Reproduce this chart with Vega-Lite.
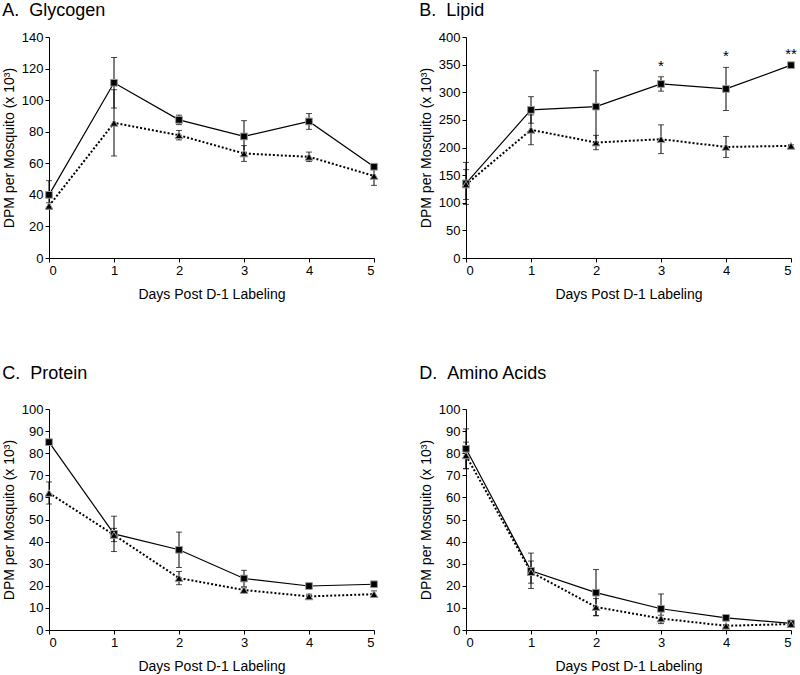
{
  "$schema": "https://vega.github.io/schema/vega-lite/v6.json",
  "padding": {"left": 2, "top": 2, "right": 0, "bottom": 2},
  "datasets": {
    "glycogen": [
      {"day": 0, "series": "square", "value": 40, "lo": 31, "hi": 49},
      {"day": 1, "series": "square", "value": 111, "lo": 95, "hi": 127},
      {"day": 2, "series": "square", "value": 87.5, "lo": 84.5, "hi": 90.5},
      {"day": 3, "series": "square", "value": 77, "lo": 67, "hi": 87},
      {"day": 4, "series": "square", "value": 86.5, "lo": 81.5, "hi": 91.5},
      {"day": 5, "series": "square", "value": 57.8, "lo": 56.8, "hi": 58.8},
      {"day": 0, "series": "triangle", "value": 33, "lo": 31, "hi": 35},
      {"day": 1, "series": "triangle", "value": 85.6, "lo": 64.6, "hi": 106.6},
      {"day": 2, "series": "triangle", "value": 77.8, "lo": 74.8, "hi": 80.8},
      {"day": 3, "series": "triangle", "value": 66.2, "lo": 61.2, "hi": 71.2},
      {"day": 4, "series": "triangle", "value": 64.1, "lo": 61.1, "hi": 67.1},
      {"day": 5, "series": "triangle", "value": 52, "lo": 46, "hi": 58}
    ],
    "lipid": [
      {"day": 0, "series": "square", "value": 135, "lo": 97, "hi": 173},
      {"day": 1, "series": "square", "value": 268, "lo": 244, "hi": 292},
      {"day": 2, "series": "square", "value": 274, "lo": 209, "hi": 339},
      {"day": 3, "series": "square", "value": 315, "lo": 302, "hi": 328},
      {"day": 4, "series": "square", "value": 306, "lo": 267, "hi": 345},
      {"day": 5, "series": "square", "value": 349, "lo": 347, "hi": 351},
      {"day": 0, "series": "triangle", "value": 133, "lo": 106, "hi": 160},
      {"day": 1, "series": "triangle", "value": 232, "lo": 205, "hi": 259},
      {"day": 2, "series": "triangle", "value": 209, "lo": 196, "hi": 222},
      {"day": 3, "series": "triangle", "value": 215, "lo": 189, "hi": 241},
      {"day": 4, "series": "triangle", "value": 201, "lo": 182, "hi": 220},
      {"day": 5, "series": "triangle", "value": 203, "lo": 201, "hi": 205}
    ],
    "lipidStars": [
      {"day": 3, "value": 348, "label": "*"},
      {"day": 4, "value": 366, "label": "*"},
      {"day": 5, "value": 370, "label": "**"}
    ],
    "protein": [
      {"day": 0, "series": "square", "value": 85, "lo": 84, "hi": 86},
      {"day": 1, "series": "square", "value": 43.5, "lo": 35.5, "hi": 51.5},
      {"day": 2, "series": "square", "value": 36.3, "lo": 28.3, "hi": 44.3},
      {"day": 3, "series": "square", "value": 23.3, "lo": 19.6, "hi": 27},
      {"day": 4, "series": "square", "value": 19.9, "lo": 19.4, "hi": 20.4},
      {"day": 5, "series": "square", "value": 20.7, "lo": 20.2, "hi": 21.2},
      {"day": 0, "series": "triangle", "value": 62, "lo": 57, "hi": 67},
      {"day": 1, "series": "triangle", "value": 43, "lo": 40, "hi": 46},
      {"day": 2, "series": "triangle", "value": 23.5, "lo": 20.5, "hi": 26.5},
      {"day": 3, "series": "triangle", "value": 18.1, "lo": 17.1, "hi": 19.1},
      {"day": 4, "series": "triangle", "value": 15.2, "lo": 14.2, "hi": 16.2},
      {"day": 5, "series": "triangle", "value": 16.2, "lo": 14.7, "hi": 17.7}
    ],
    "amino": [
      {"day": 0, "series": "square", "value": 82, "lo": 73, "hi": 91},
      {"day": 1, "series": "square", "value": 26.8, "lo": 18.8, "hi": 34.8},
      {"day": 2, "series": "square", "value": 16.9, "lo": 6.4, "hi": 27.4},
      {"day": 3, "series": "square", "value": 9.6, "lo": 2.9, "hi": 16.3},
      {"day": 4, "series": "square", "value": 5.5, "lo": 4.5, "hi": 6.5},
      {"day": 5, "series": "square", "value": 3, "lo": 2.5, "hi": 3.5},
      {"day": 0, "series": "triangle", "value": 79, "lo": 73, "hi": 85},
      {"day": 1, "series": "triangle", "value": 26.2, "lo": 21.2, "hi": 31.2},
      {"day": 2, "series": "triangle", "value": 10.4, "lo": 6.6, "hi": 14.2},
      {"day": 3, "series": "triangle", "value": 5.2, "lo": 3.7, "hi": 6.7},
      {"day": 4, "series": "triangle", "value": 1.9, "lo": 1.4, "hi": 2.4},
      {"day": 5, "series": "triangle", "value": 2.7, "lo": 2.2, "hi": 3.2}
    ]
  },
  "vconcat": [
    {
      "hconcat": [
        {
          "title": {"text": "A.\u00a0\u00a0Glycogen", "offset": 11},
          "width": 325, "height": 221,
          "data": {"name": "glycogen"},
          "encoding": {
            "x": {"field": "day", "type": "quantitative", "scale": {"domain": [0, 5], "nice": false}, "axis": {"values": [0, 1, 2, 3, 4, 5], "title": "Days Post D-1 Labeling", "labelOverlap": false}}
          },
          "layer": [
            {"mark": {"type": "rule", "color": "black", "strokeWidth": 1}, "encoding": {"y": {"field": "lo", "type": "quantitative", "scale": {"domain": [0, 140], "nice": false}, "axis": {"values": [0, 20, 40, 60, 80, 100, 120, 140], "labelOverlap": false}, "title": "DPM per Mosquito (x 10³)"}, "y2": {"field": "hi"}}},
            {"mark": {"type": "tick", "orient": "horizontal", "size": 6, "thickness": 1, "color": "black"}, "encoding": {"y": {"field": "lo", "type": "quantitative", "axis": {"values": [0, 20, 40, 60, 80, 100, 120, 140], "labelOverlap": false}, "title": "DPM per Mosquito (x 10³)"}}},
            {"mark": {"type": "tick", "orient": "horizontal", "size": 6, "thickness": 1, "color": "black"}, "encoding": {"y": {"field": "hi", "type": "quantitative", "axis": {"values": [0, 20, 40, 60, 80, 100, 120, 140], "labelOverlap": false}, "title": "DPM per Mosquito (x 10³)"}}},
            {"transform": [{"filter": "datum.series == 'square'"}], "mark": {"type": "line", "color": "black", "strokeWidth": 1.2}, "encoding": {"y": {"field": "value", "type": "quantitative", "axis": {"values": [0, 20, 40, 60, 80, 100, 120, 140], "labelOverlap": false}, "title": "DPM per Mosquito (x 10³)"}}},
            {"transform": [{"filter": "datum.series == 'triangle'"}], "mark": {"type": "line", "color": "black", "strokeWidth": 2, "strokeDash": [2, 2]}, "encoding": {"y": {"field": "value", "type": "quantitative", "axis": {"values": [0, 20, 40, 60, 80, 100, 120, 140], "labelOverlap": false}, "title": "DPM per Mosquito (x 10³)"}}},
            {"transform": [{"filter": "datum.series == 'square'"}], "mark": {"type": "point", "shape": "square", "filled": true, "color": "black", "opacity": 1, "size": 45, "stroke": "#999999", "strokeWidth": 1}, "encoding": {"y": {"field": "value", "type": "quantitative", "axis": {"values": [0, 20, 40, 60, 80, 100, 120, 140], "labelOverlap": false}, "title": "DPM per Mosquito (x 10³)"}}},
            {"transform": [{"filter": "datum.series == 'triangle'"}], "mark": {"type": "point", "shape": "triangle-up", "filled": true, "color": "black", "opacity": 1, "size": 60, "stroke": "#999999", "strokeWidth": 1}, "encoding": {"y": {"field": "value", "type": "quantitative", "axis": {"values": [0, 20, 40, 60, 80, 100, 120, 140], "labelOverlap": false}, "title": "DPM per Mosquito (x 10³)"}}}
          ]
        },
        {
          "title": {"text": "B.\u00a0\u00a0Lipid", "offset": 11},
          "width": 325, "height": 221,
          "data": {"name": "lipid"},
          "encoding": {
            "x": {"field": "day", "type": "quantitative", "scale": {"domain": [0, 5], "nice": false}, "axis": {"values": [0, 1, 2, 3, 4, 5], "title": "Days Post D-1 Labeling", "labelOverlap": false}}
          },
          "layer": [
            {"mark": {"type": "rule", "color": "black", "strokeWidth": 1}, "encoding": {"y": {"field": "lo", "type": "quantitative", "scale": {"domain": [0, 400], "nice": false}, "axis": {"values": [0, 50, 100, 150, 200, 250, 300, 350, 400], "labelOverlap": false}, "title": "DPM per Mosquito (x 10³)"}, "y2": {"field": "hi"}}},
            {"mark": {"type": "tick", "orient": "horizontal", "size": 6, "thickness": 1, "color": "black"}, "encoding": {"y": {"field": "lo", "type": "quantitative", "axis": {"values": [0, 50, 100, 150, 200, 250, 300, 350, 400], "labelOverlap": false}, "title": "DPM per Mosquito (x 10³)"}}},
            {"mark": {"type": "tick", "orient": "horizontal", "size": 6, "thickness": 1, "color": "black"}, "encoding": {"y": {"field": "hi", "type": "quantitative", "axis": {"values": [0, 50, 100, 150, 200, 250, 300, 350, 400], "labelOverlap": false}, "title": "DPM per Mosquito (x 10³)"}}},
            {"transform": [{"filter": "datum.series == 'square'"}], "mark": {"type": "line", "color": "black", "strokeWidth": 1.2}, "encoding": {"y": {"field": "value", "type": "quantitative", "axis": {"values": [0, 50, 100, 150, 200, 250, 300, 350, 400], "labelOverlap": false}, "title": "DPM per Mosquito (x 10³)"}}},
            {"transform": [{"filter": "datum.series == 'triangle'"}], "mark": {"type": "line", "color": "black", "strokeWidth": 2, "strokeDash": [2, 2]}, "encoding": {"y": {"field": "value", "type": "quantitative", "axis": {"values": [0, 50, 100, 150, 200, 250, 300, 350, 400], "labelOverlap": false}, "title": "DPM per Mosquito (x 10³)"}}},
            {"transform": [{"filter": "datum.series == 'square'"}], "mark": {"type": "point", "shape": "square", "filled": true, "color": "black", "opacity": 1, "size": 45, "stroke": "#999999", "strokeWidth": 1}, "encoding": {"y": {"field": "value", "type": "quantitative", "axis": {"values": [0, 50, 100, 150, 200, 250, 300, 350, 400], "labelOverlap": false}, "title": "DPM per Mosquito (x 10³)"}}},
            {"transform": [{"filter": "datum.series == 'triangle'"}], "mark": {"type": "point", "shape": "triangle-up", "filled": true, "color": "black", "opacity": 1, "size": 60, "stroke": "#999999", "strokeWidth": 1}, "encoding": {"y": {"field": "value", "type": "quantitative", "axis": {"values": [0, 50, 100, 150, 200, 250, 300, 350, 400], "labelOverlap": false}, "title": "DPM per Mosquito (x 10³)"}}},
            {"data": {"name": "lipidStars"}, "mark": {"type": "text", "fontSize": 15, "color": "black", "baseline": "middle", "align": "center"}, "encoding": {"y": {"field": "value", "type": "quantitative", "axis": {"values": [0, 50, 100, 150, 200, 250, 300, 350, 400], "labelOverlap": false}, "title": "DPM per Mosquito (x 10³)"}, "text": {"field": "label"}}}
          ]
        }
      ]
    },
    {
      "hconcat": [
        {
          "title": {"text": "C.\u00a0\u00a0Protein", "offset": 20},
          "width": 325, "height": 221,
          "data": {"name": "protein"},
          "encoding": {
            "x": {"field": "day", "type": "quantitative", "scale": {"domain": [0, 5], "nice": false}, "axis": {"values": [0, 1, 2, 3, 4, 5], "title": "Days Post D-1 Labeling", "labelOverlap": false}}
          },
          "layer": [
            {"mark": {"type": "rule", "color": "black", "strokeWidth": 1}, "encoding": {"y": {"field": "lo", "type": "quantitative", "scale": {"domain": [0, 100], "nice": false}, "axis": {"values": [0, 10, 20, 30, 40, 50, 60, 70, 80, 90, 100], "labelOverlap": false}, "title": "DPM per Mosquito (x 10³)"}, "y2": {"field": "hi"}}},
            {"mark": {"type": "tick", "orient": "horizontal", "size": 6, "thickness": 1, "color": "black"}, "encoding": {"y": {"field": "lo", "type": "quantitative", "axis": {"values": [0, 10, 20, 30, 40, 50, 60, 70, 80, 90, 100], "labelOverlap": false}, "title": "DPM per Mosquito (x 10³)"}}},
            {"mark": {"type": "tick", "orient": "horizontal", "size": 6, "thickness": 1, "color": "black"}, "encoding": {"y": {"field": "hi", "type": "quantitative", "axis": {"values": [0, 10, 20, 30, 40, 50, 60, 70, 80, 90, 100], "labelOverlap": false}, "title": "DPM per Mosquito (x 10³)"}}},
            {"transform": [{"filter": "datum.series == 'square'"}], "mark": {"type": "line", "color": "black", "strokeWidth": 1.2}, "encoding": {"y": {"field": "value", "type": "quantitative", "axis": {"values": [0, 10, 20, 30, 40, 50, 60, 70, 80, 90, 100], "labelOverlap": false}, "title": "DPM per Mosquito (x 10³)"}}},
            {"transform": [{"filter": "datum.series == 'triangle'"}], "mark": {"type": "line", "color": "black", "strokeWidth": 2, "strokeDash": [2, 2]}, "encoding": {"y": {"field": "value", "type": "quantitative", "axis": {"values": [0, 10, 20, 30, 40, 50, 60, 70, 80, 90, 100], "labelOverlap": false}, "title": "DPM per Mosquito (x 10³)"}}},
            {"transform": [{"filter": "datum.series == 'square'"}], "mark": {"type": "point", "shape": "square", "filled": true, "color": "black", "opacity": 1, "size": 45, "stroke": "#999999", "strokeWidth": 1}, "encoding": {"y": {"field": "value", "type": "quantitative", "axis": {"values": [0, 10, 20, 30, 40, 50, 60, 70, 80, 90, 100], "labelOverlap": false}, "title": "DPM per Mosquito (x 10³)"}}},
            {"transform": [{"filter": "datum.series == 'triangle'"}], "mark": {"type": "point", "shape": "triangle-up", "filled": true, "color": "black", "opacity": 1, "size": 60, "stroke": "#999999", "strokeWidth": 1}, "encoding": {"y": {"field": "value", "type": "quantitative", "axis": {"values": [0, 10, 20, 30, 40, 50, 60, 70, 80, 90, 100], "labelOverlap": false}, "title": "DPM per Mosquito (x 10³)"}}}
          ]
        },
        {
          "title": {"text": "D.\u00a0\u00a0Amino Acids", "offset": 20},
          "width": 325, "height": 221,
          "data": {"name": "amino"},
          "encoding": {
            "x": {"field": "day", "type": "quantitative", "scale": {"domain": [0, 5], "nice": false}, "axis": {"values": [0, 1, 2, 3, 4, 5], "title": "Days Post D-1 Labeling", "labelOverlap": false}}
          },
          "layer": [
            {"mark": {"type": "rule", "color": "black", "strokeWidth": 1}, "encoding": {"y": {"field": "lo", "type": "quantitative", "scale": {"domain": [0, 100], "nice": false}, "axis": {"values": [0, 10, 20, 30, 40, 50, 60, 70, 80, 90, 100], "labelOverlap": false}, "title": "DPM per Mosquito (x 10³)"}, "y2": {"field": "hi"}}},
            {"mark": {"type": "tick", "orient": "horizontal", "size": 6, "thickness": 1, "color": "black"}, "encoding": {"y": {"field": "lo", "type": "quantitative", "axis": {"values": [0, 10, 20, 30, 40, 50, 60, 70, 80, 90, 100], "labelOverlap": false}, "title": "DPM per Mosquito (x 10³)"}}},
            {"mark": {"type": "tick", "orient": "horizontal", "size": 6, "thickness": 1, "color": "black"}, "encoding": {"y": {"field": "hi", "type": "quantitative", "axis": {"values": [0, 10, 20, 30, 40, 50, 60, 70, 80, 90, 100], "labelOverlap": false}, "title": "DPM per Mosquito (x 10³)"}}},
            {"transform": [{"filter": "datum.series == 'square'"}], "mark": {"type": "line", "color": "black", "strokeWidth": 1.2}, "encoding": {"y": {"field": "value", "type": "quantitative", "axis": {"values": [0, 10, 20, 30, 40, 50, 60, 70, 80, 90, 100], "labelOverlap": false}, "title": "DPM per Mosquito (x 10³)"}}},
            {"transform": [{"filter": "datum.series == 'triangle'"}], "mark": {"type": "line", "color": "black", "strokeWidth": 2, "strokeDash": [2, 2]}, "encoding": {"y": {"field": "value", "type": "quantitative", "axis": {"values": [0, 10, 20, 30, 40, 50, 60, 70, 80, 90, 100], "labelOverlap": false}, "title": "DPM per Mosquito (x 10³)"}}},
            {"transform": [{"filter": "datum.series == 'square'"}], "mark": {"type": "point", "shape": "square", "filled": true, "color": "black", "opacity": 1, "size": 45, "stroke": "#999999", "strokeWidth": 1}, "encoding": {"y": {"field": "value", "type": "quantitative", "axis": {"values": [0, 10, 20, 30, 40, 50, 60, 70, 80, 90, 100], "labelOverlap": false}, "title": "DPM per Mosquito (x 10³)"}}},
            {"transform": [{"filter": "datum.series == 'triangle'"}], "mark": {"type": "point", "shape": "triangle-up", "filled": true, "color": "black", "opacity": 1, "size": 60, "stroke": "#999999", "strokeWidth": 1}, "encoding": {"y": {"field": "value", "type": "quantitative", "axis": {"values": [0, 10, 20, 30, 40, 50, 60, 70, 80, 90, 100], "labelOverlap": false}, "title": "DPM per Mosquito (x 10³)"}}}
          ]
        }
      ]
    }
  ],
  "spacing": 64,
  "config": {
    "concat": {"spacing": 39},
    "view": {"stroke": null},
    "font": "Liberation Sans",
    "axis": {
      "domainColor": "black", "tickColor": "black", "labelColor": "black", "titleColor": "black",
      "labelFontSize": 13, "titleFontSize": 14, "titleFontWeight": "normal", "grid": false,
      "tickSize": 4, "labelPadding": 2, "domainWidth": 1, "tickWidth": 1, "labelOverlap": false
    },
    "axisX": {"titlePadding": 10},
    "axisY": {"titlePadding": 5},
    "title": {"fontSize": 18, "fontWeight": "normal", "anchor": "start", "frame": "bounds", "color": "black"}
  }
}
